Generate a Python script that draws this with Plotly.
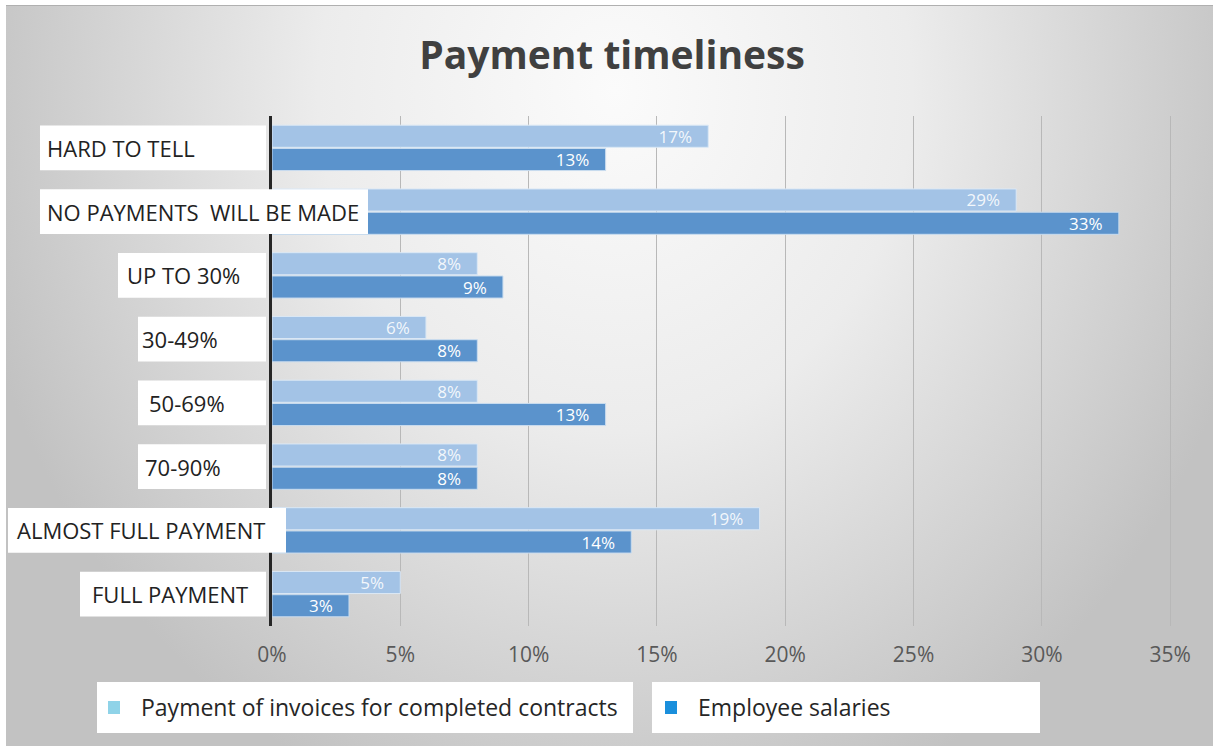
import base64
import plotly.graph_objects as go

# Survey data (share of respondents)
categories = [
    "HARD TO TELL",
    "NO PAYMENTS  WILL BE MADE",
    "UP TO 30%",
    "30-49%",
    "50-69%",
    "70-90%",
    "ALMOST FULL PAYMENT",
    "FULL PAYMENT",
]
invoices = [0.17, 0.29, 0.08, 0.06, 0.08, 0.08, 0.19, 0.05]
salaries = [0.13, 0.33, 0.09, 0.08, 0.13, 0.08, 0.14, 0.03]
series_names = ["Payment of invoices for completed contracts", "Employee salaries"]
x_ticks = [0, 0.05, 0.10, 0.15, 0.20, 0.25, 0.30, 0.35]
x_tick_labels = ["0%", "5%", "10%", "15%", "20%", "25%", "30%", "35%"]

W, H = 1213, 746
PL, PR, PT, PB = 272, 30, 116, 120
PW, PH = W - PL - PR, H - PT - PB

FONT = "Open Sans"
LIGHT = "#a3c3e6"
DARK = "#5b93cc"
PAD = "\u00a0\u00a0\u00a0"  # keeps value labels off the bar ends


def px_x(px):
    return (px - PL) / PW


def px_y(py):
    return (H - PB - py) / PH


# Soft radial backdrop
svg = f"""<svg xmlns='http://www.w3.org/2000/svg' width='{W}' height='{H}'>
<defs><radialGradient id='g' gradientUnits='userSpaceOnUse' cx='0' cy='0' r='660'
 gradientTransform='translate(615,90) scale(1,1.15)'>
<stop offset='0' stop-color='#fbfbfb'/><stop offset='0.45' stop-color='#ececec'/>
<stop offset='1' stop-color='#c2c2c2'/></radialGradient></defs>
<rect width='{W}' height='{H}' fill='#ffffff'/>
<rect x='6' y='5' width='{W-6}' height='{H-5}' fill='url(#g)'/>
<rect x='6' y='5' width='{W-6}' height='1' fill='#b0b0b0'/>
</svg>"""
bg_uri = "data:image/svg+xml;base64," + base64.b64encode(svg.encode()).decode()

fig = go.Figure()
fig.add_trace(go.Bar(
    y=categories, x=invoices, orientation="h", name=series_names[0],
    marker=dict(color=LIGHT, line=dict(color="#dbe8f5", width=1)),
    text=[f"{v:.0%}{PAD}" for v in invoices], textposition="inside",
    insidetextanchor="end", constraintext="none",
    textfont=dict(family=FONT, size=17, color="rgba(255,255,255,0.88)"),
))
fig.add_trace(go.Bar(
    y=categories, x=salaries, orientation="h", name=series_names[1],
    marker=dict(color=DARK, line=dict(color="#c9dcef", width=1)),
    text=[f"{v:.0%}{PAD}" for v in salaries], textposition="inside",
    insidetextanchor="end", constraintext="none",
    textfont=dict(family=FONT, size=17, color="#ffffff"),
))

shapes = []
annotations = []

# Category label boxes: (box left px, box right px, text left px)
label_boxes = [
    (40, 266, 45), (40, 368, 45), (118, 266, 125), (138, 266, 140),
    (138, 266, 147), (138, 266, 143), (8, 286, 15), (80, 266, 90),
]
for i, (cat, (bx0, bx1, tx)) in enumerate(zip(categories, label_boxes)):
    shapes.append(dict(type="rect", xref="paper", yref="y",
                       x0=px_x(bx0), x1=px_x(bx1), y0=i - 0.35, y1=i + 0.35,
                       fillcolor="white", line=dict(width=0), layer="above"))
    annotations.append(dict(xref="paper", yref="y", x=px_x(tx), y=i,
                            xanchor="left", yanchor="middle", showarrow=False,
                            text=cat, font=dict(family=FONT, size=22, color="#222222")))

# Legend boxes
legend_items = [
    (97, 633, 108, "#8fd3e8", series_names[0]),
    (652, 1040, 665, "#1a8fdc", series_names[1]),
]
for bx0, bx1, mx, col, name in legend_items:
    shapes.append(dict(type="rect", xref="paper", yref="paper",
                       x0=px_x(bx0), x1=px_x(bx1), y0=px_y(733), y1=px_y(682),
                       fillcolor="white", line=dict(width=0)))
    shapes.append(dict(type="rect", xref="paper", yref="paper",
                       x0=px_x(mx), x1=px_x(mx + 12), y0=px_y(714), y1=px_y(701),
                       fillcolor=col, line=dict(width=0)))
    annotations.append(dict(xref="paper", yref="paper", x=px_x(mx + 31), y=px_y(707),
                            xanchor="left", yanchor="middle", showarrow=False,
                            text=name, font=dict(family=FONT, size=23, color="#262626")))

fig.update_layout(
    width=W, height=H,
    margin=dict(l=PL, r=PR, t=PT, b=PB),
    paper_bgcolor="white", plot_bgcolor="rgba(0,0,0,0)",
    barmode="group", bargap=0.27, bargroupgap=0.05,
    showlegend=False,
    title=dict(text="<b>Payment timeliness</b>", xref="container", x=612 / W,
               xanchor="center", y=1 - 55 / H, yanchor="middle",
               font=dict(family=FONT, size=39, color="#404040")),
    images=[dict(source=bg_uri, xref="paper", yref="paper",
                 x=px_x(0), y=px_y(0), sizex=W / PW, sizey=H / PH,
                 xanchor="left", yanchor="top", sizing="stretch", layer="below")],
    shapes=shapes,
    annotations=annotations,
    xaxis=dict(range=[0, 0.355], tickvals=x_ticks, ticktext=x_tick_labels,
               showgrid=True, gridcolor="#b8b8b8", gridwidth=1, zeroline=False,
               showline=False, ticks="", ticklabelstandoff=14,
               tickfont=dict(family=FONT, size=21, color="#595959")),
    yaxis=dict(autorange="reversed", showticklabels=False, showgrid=False,
               showline=True, linecolor="#262626", linewidth=3, ticks="",
               zeroline=False),
)

fig.write_html("out.html")
